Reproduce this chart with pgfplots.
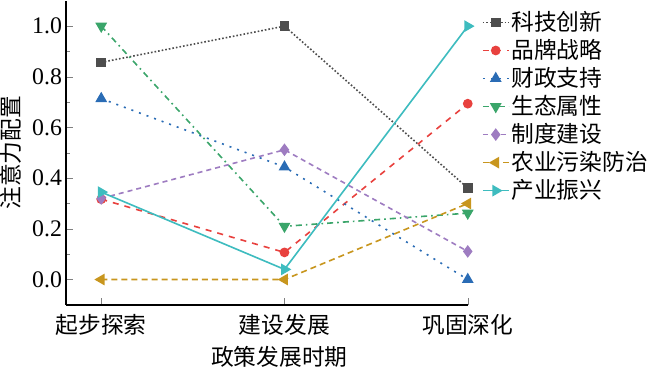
\documentclass[border=0pt]{standalone}
\usepackage{pgfplots}
\pgfplotsset{compat=1.18}
\usepackage{fontspec}
\setmainfont{Liberation Serif}
\newfontfamily\cjk{Noto Sans CJK SC}
\definecolor{cA}{HTML}{4D4D4D}
\definecolor{cB}{HTML}{E8413E}
\definecolor{cC}{HTML}{2A6CB5}
\definecolor{cD}{HTML}{3AA56A}
\definecolor{cE}{HTML}{9E7CC1}
\definecolor{cF}{HTML}{C8961E}
\definecolor{cG}{HTML}{3EBCBF}
\begin{document}
\begin{tikzpicture}
\begin{axis}[
  scale only axis,
  width=199.5pt, height=151pt,
  xmin=-0.192, xmax=2, ymin=-0.1, ymax=1.1,
  axis x line=bottom, axis y line=left,
  axis line style={-, line width=0.8pt},
  tick align=inside,
  major tick length=3.5pt, minor tick length=2.2pt,
  xtick={0,1,2},
  xticklabels={起步探索,建设发展,巩固深化},
  x tick label style={font=\cjk\fontsize{11.3}{13}\selectfont, yshift=-1pt},
  ytick={0,0.2,0.4,0.6,0.8,1.0},
  minor ytick={0.1,0.3,0.5,0.7,0.9},
  yticklabel style={/pgf/number format/.cd, fixed, fixed zerofill, precision=1, /tikz/.cd, font=\fontsize{11.8}{13}\selectfont, xshift=1.5pt},
  /pgf/number format/assume math mode=true,
  xlabel={政策发展时期},
  ylabel={注意力配置},
  every axis x label/.style={at={(axis description cs:0.531,-0.2086)}, anchor=south, inner sep=0pt, font=\cjk\fontsize{11.3}{13}\selectfont},
  every axis y label/.style={at={(axis description cs:-0.1654,0.5)}, rotate=90, anchor=north, inner sep=0pt, font=\cjk\fontsize{11.3}{13}\selectfont},
  legend image code/.code={\draw[mark repeat=2,mark phase=2] plot coordinates {(0cm,0cm) (0.225cm,0cm) (0.45cm,0cm)};},
  legend style={draw=none, fill=none, at={(1.0346,0.98)}, anchor=north west,
    font=\cjk\fontsize{11.3}{13}\selectfont, row sep=-1.1pt, inner sep=0pt,
    nodes={inner xsep=1pt}},
  legend cell align=left,
  every axis plot/.append style={line width=0.8pt},
  clip=false,
]
\addplot[cA, densely dotted, mark=square*, mark size=2pt, mark options={solid}] coordinates {(0,0.857) (1,1.0) (2,0.361)};
\addlegendentry{科技创新}
\addplot[cB, dashed, mark=*, mark size=2pt, mark options={solid}] coordinates {(0,0.317) (1,0.107) (2,0.694)};
\addlegendentry{品牌战略}
\addplot[cC, dash pattern=on 1pt off 3pt, mark=triangle*, mark size=2.6pt, mark options={solid}] coordinates {(0,0.714) (1,0.444) (2,0.0)};
\addlegendentry{财政支持}
\addplot[cD, dash dot, mark=triangle*, mark size=2.6pt, mark options={solid, rotate=180}] coordinates {(0,1.0) (1,0.21) (2,0.262)};
\addlegendentry{生态属性}
\addplot[cE, dash pattern=on 2.5pt off 2pt, mark=diamond*, mark size=2.5pt, mark options={solid}] coordinates {(0,0.32) (1,0.512) (2,0.111)};
\addlegendentry{制度建设}
\addplot[cF, densely dashed, mark=triangle*, mark size=2.6pt, mark options={solid, rotate=90}] coordinates {(0,0.0) (1,0.0) (2,0.30)};
\addlegendentry{农业污染防治}
\addplot[cG, solid, mark=triangle*, mark size=2.6pt, mark options={solid, rotate=-90}] coordinates {(0,0.345) (1,0.04) (2,1.0)};
\addlegendentry{产业振兴}
\end{axis}
\end{tikzpicture}
\end{document}
